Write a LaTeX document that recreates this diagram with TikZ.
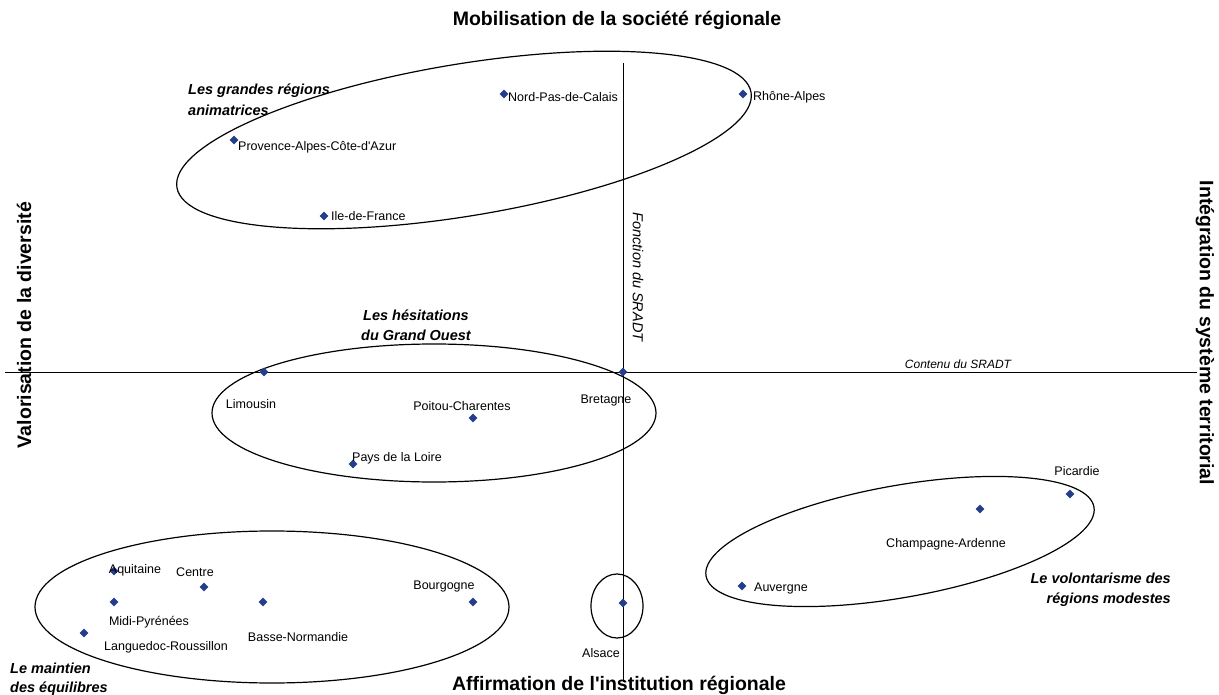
\documentclass[tikz,border=0pt]{standalone}
\usepackage{fontspec}
\setmainfont{Liberation Sans}[Ligatures=TeXOff]
\usetikzlibrary{shapes.geometric}
\definecolor{ptblue}{RGB}{36,62,140}
\begin{document}
\begin{tikzpicture}[x=1pt,y=-1pt,
  dot/.style={diamond, fill=ptblue, inner sep=0pt, minimum size=9pt},
  lbl/.style={font=\fontsize{12.5}{14}\selectfont, inner sep=0pt},
  grp/.style={font=\fontsize{14.5}{20}\selectfont\bfseries\itshape, inner sep=0pt},
  ttl/.style={font=\fontsize{19.5}{22}\selectfont\bfseries, inner sep=0pt},
  axlbl/.style={font=\fontsize{12}{14}\selectfont\itshape, inner sep=0pt},
  axis/.style={line width=0.8pt},
  zone/.style={line width=1.2pt}]
\useasboundingbox (0,0) rectangle (1219,695);

% axes
\coordinate (hl) at (5,372);
\coordinate (hr) at (1197,372);
\coordinate (vt) at (623,63);
\coordinate (vb) at (623,682);
\draw[axis] (hl) -- (hr);
\draw[axis] (vt) -- (vb);

% titles
\node[ttl] (tTop) at (617,20) {Mobilisation de la société régionale};
\node[ttl] (tBot) at (619,685) {Affirmation de l'institution régionale};
\node[ttl, rotate=90] (tLeft) at (24,325) {Valorisation de la diversité};
\node[ttl, rotate=-90] (tRight) at (1205,333) {Intégration du système territorial};
\node[axlbl] (cont) at (958,364) {Contenu du SRADT};
\node[axlbl, rotate=-90, font=\fontsize{14.5}{16}\selectfont\itshape] (fonc) at (638,277) {Fonction du SRADT};

% zones
\draw[zone, rotate around={9.4:(464,140)}] (464,140) ellipse [x radius=291pt, y radius=76pt];
\draw[zone] (434,413) ellipse [x radius=222pt, y radius=69pt];
\draw[zone] (272,607) ellipse [x radius=237pt, y radius=76pt];
\draw[zone] (617,606) ellipse [x radius=26pt, y radius=32pt];
\draw[zone, rotate around={10.1:(900,541.5)}] (900,541.5) ellipse [x radius=197pt, y radius=56pt];

% group labels
\node[grp, anchor=west] (g1a) at (188,91) {Les grandes régions};
\node[grp, anchor=west] (g1b) at (188,110) {animatrices};
\node[grp] (g2a) at (416,315) {Les hésitations};
\node[grp] (g2b) at (416,335) {du Grand Ouest};
\node[grp, anchor=west] (g3a) at (10,668) {Le maintien};
\node[grp, anchor=west] (g3b) at (10,689) {des équilibres};
\node[grp, anchor=east] (g4a) at (1171,578) {Le volontarisme des};
\node[grp, anchor=east] (g4b) at (1171,600) {régions modestes};

% regions
\node[dot] (npc) at (504,94) {};
\node[lbl, anchor=west] (npcL) at (508,97) {Nord-Pas-de-Calais};
\node[dot] (ra) at (743,94) {};
\node[lbl, anchor=west] (raL) at (753,97) {Rhône-Alpes};
\node[dot] (paca) at (234,140) {};
\node[lbl, anchor=west] (pacaL) at (238,147) {Provence-Alpes-Côte-d'Azur};
\node[dot] (idf) at (324,216) {};
\node[lbl, anchor=west] (idfL) at (331,216) {Ile-de-France};

\node[dot] (lim) at (264,372) {};
\node[lbl] (limL) at (251,404) {Limousin};
\node[dot] (bre) at (623,372) {};
\node[lbl] (breL) at (606,400) {Bretagne};
\node[dot] (pc) at (473,418) {};
\node[lbl] (pcL) at (462,406) {Poitou-Charentes};
\node[dot] (pdl) at (353,464) {};
\node[lbl] (pdlL) at (397,458) {Pays de la Loire};

\node[dot] (aqu) at (114,571) {};
\node[lbl] (aquL) at (135,570) {Aquitaine};
\node[dot] (cen) at (204,587) {};
\node[lbl] (cenL) at (195,572) {Centre};
\node[dot] (mp) at (114,602) {};
\node[lbl] (mpL) at (149,622) {Midi-Pyrénées};
\node[dot] (lr) at (84,633) {};
\node[lbl] (lrL) at (166,647) {Languedoc-Roussillon};
\node[dot] (bn) at (263,602) {};
\node[lbl] (bnL) at (298,637) {Basse-Normandie};
\node[dot] (bou) at (473,602) {};
\node[lbl] (bouL) at (444,586) {Bourgogne};

\node[dot] (als) at (623,603) {};
\node[lbl] (alsL) at (601,653) {Alsace};

\node[dot] (auv) at (742,586) {};
\node[lbl, anchor=west] (auvL) at (754,588) {Auvergne};
\node[dot] (ca) at (980,509) {};
\node[lbl] (caL) at (946,544) {Champagne-Ardenne};
\node[dot] (pic) at (1070,494) {};
\node[lbl] (picL) at (1077,471) {Picardie};
\end{tikzpicture}
\end{document}
